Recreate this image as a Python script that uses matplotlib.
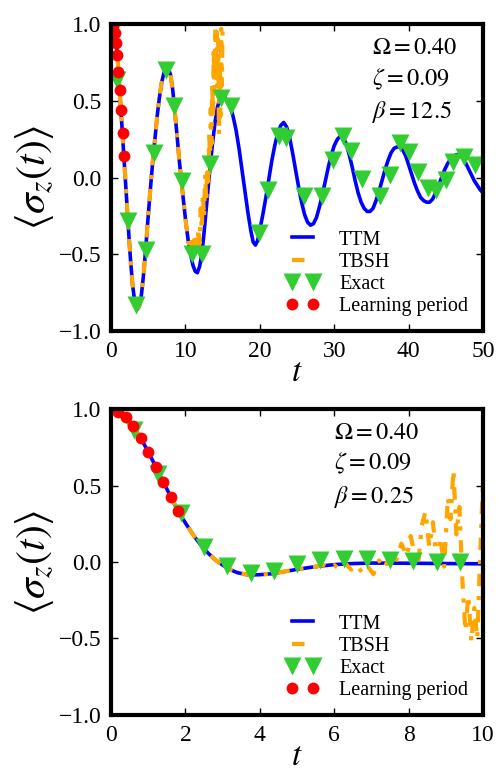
import numpy as np
import matplotlib
matplotlib.use("Agg")
import matplotlib.pyplot as plt

plt.rcParams["font.family"] = ["Liberation Serif", "DejaVu Serif"]
plt.rcParams["mathtext.fontset"] = "stix"
plt.rcParams["lines.scale_dashes"] = False

# ---- top panel (beta = 12.5) ----
ttm_top_t = [0, 0.3, 0.5, 0.7, 0.9, 1.1, 1.3, 1.5, 1.7, 1.9, 2.1, 2.3, 2.6, 2.9, 3.2, 3.5,
             3.8, 4.1, 4.4, 4.7, 5.0, 5.3, 5.6, 5.9, 6.2, 6.5, 6.8, 7.1, 7.4, 7.7, 8.0, 8.3,
             8.6, 8.9, 9.2, 9.5, 9.8, 10.1, 10.4, 10.7, 11.0, 11.3, 11.6, 11.9, 12.2, 12.5,
             12.8, 13.1, 13.4, 13.7, 14.0, 14.3, 14.6, 14.9, 15.2, 15.5, 15.8, 16.1, 16.4,
             16.8, 17.2, 17.6, 18.0, 18.4, 18.8, 19.1, 19.4, 19.7, 20.0, 20.4, 20.8, 21.2,
             21.6, 22.0, 22.4, 22.8, 23.2, 23.6, 24.0, 24.4, 24.8, 25.2, 25.6, 26.0, 26.4,
             26.8, 27.2, 27.6, 28.0, 28.4, 28.8, 29.2, 29.6, 30.0, 30.4, 30.8, 31.2, 31.6,
             32.0, 32.4, 32.8, 33.2, 33.6, 34.0, 34.4, 34.8, 35.2, 35.6, 36.0, 36.4, 36.8,
             37.2, 37.6, 38.0, 38.4, 38.8, 39.2, 39.6, 40.0, 40.4, 40.8, 41.2, 41.6, 42.0,
             42.4, 42.8, 43.2, 43.6, 44.0, 44.4, 44.8, 45.2, 45.6, 46.0, 46.4, 46.8, 47.2,
             47.6, 48.0, 48.4, 48.8, 49.2, 49.6, 50.0]
ttm_top_v = [1.0, 0.99, 0.96, 0.89, 0.77, 0.62, 0.48, 0.33, 0.17, 0.02, -0.14, -0.30, -0.52,
             -0.70, -0.81, -0.86, -0.84, -0.76, -0.62, -0.44, -0.25, -0.07, 0.10, 0.25, 0.40,
             0.52, 0.62, 0.68, 0.715, 0.715, 0.67, 0.57, 0.42, 0.26, 0.10, -0.04, -0.18,
             -0.31, -0.42, -0.50, -0.57, -0.61, -0.62, -0.58, -0.50, -0.36, -0.20, -0.04,
             0.11, 0.25, 0.37, 0.46, 0.51, 0.53, 0.53, 0.51, 0.49, 0.45, 0.40, 0.31, 0.19,
             0.05, -0.09, -0.23, -0.35, -0.42, -0.44, -0.41, -0.34, -0.24, -0.13, -0.01,
             0.11, 0.21, 0.29, 0.34, 0.36, 0.33, 0.26, 0.16, 0.05, -0.06, -0.16, -0.24,
             -0.29, -0.31, -0.30, -0.26, -0.19, -0.11, -0.02, 0.07, 0.15, 0.21, 0.25, 0.27,
             0.26, 0.22, 0.15, 0.07, -0.02, -0.10, -0.16, -0.20, -0.22, -0.22, -0.20, -0.15,
             -0.09, -0.02, 0.05, 0.11, 0.16, 0.19, 0.20, 0.20, 0.18, 0.14, 0.08, 0.02, -0.04,
             -0.09, -0.13, -0.15, -0.16, -0.16, -0.14, -0.10, -0.05, 0.0, 0.05, 0.09, 0.12,
             0.14, 0.15, 0.15, 0.13, 0.10, 0.06, 0.02, -0.02, -0.05, -0.08, -0.10]
# TBSH follows TTM until ~t=10, then becomes unstable
tbsh_top_tail_t = [10.4, 10.6, 10.8, 11.0, 11.15, 11.3, 11.45, 11.6, 11.75, 11.9, 12.05, 12.2,
                   12.35, 12.5, 12.65, 12.8, 12.95, 13.1, 13.2, 13.3, 13.4, 13.5, 13.6, 13.7,
                   13.8, 13.9, 14.0, 14.1, 14.2, 14.3, 14.4, 14.5, 14.6, 14.7, 14.8, 14.9,
                   15.0, 15.2, 15.5]
tbsh_top_tail_v = [-0.41, -0.47, -0.42, -0.50, -0.38, -0.48, -0.36, -0.46, -0.33, -0.43, -0.20,
                   -0.34, -0.10, -0.26, 0.02, -0.16, 0.12, -0.04, 0.30, 0.10, 0.45, 0.22, 0.62,
                   0.38, 0.85, 0.55, 0.98, 0.70, 0.95, 0.58, 0.90, 0.28, 0.75, 0.40, 0.97,
                   0.60, 1.05, 1.3, 2.0]
exact_top_t = [0.85, 2.3, 3.35, 4.65, 5.8, 7.35, 8.4, 9.6, 10.85, 12.2, 13.35, 14.75, 16.15,
               19.9, 21.1, 22.55, 23.55, 25.95, 28.4, 29.85, 31.1, 32.2, 33.65, 36.1, 37.45,
               38.8, 40.05, 41.25, 42.6, 43.6, 45.05, 46.0, 47.35, 48.9]
exact_top_v = [0.64, -0.28, -0.83, -0.47, 0.16, 0.70, 0.47, -0.02, -0.50, -0.50, 0.09, 0.52,
               0.47, -0.36, -0.08, 0.27, 0.26, -0.12, -0.12, 0.115, 0.27, 0.175, -0.01,
               -0.12, 0.02, 0.225, 0.165, 0.035, -0.07, -0.08, -0.015, 0.105, 0.137, 0.08]
learn_top_t = [0.3, 0.55, 0.72, 0.86, 1.0, 1.17, 1.35, 1.55, 1.74]
learn_top_v = [0.99, 0.945, 0.88, 0.80, 0.69, 0.57, 0.44, 0.29, 0.14]

# ---- bottom panel (beta = 0.25) ----
ttm_bot_t = [0, 0.2, 0.4, 0.6, 0.8, 1.0, 1.2, 1.4, 1.6, 1.8, 2.0, 2.2, 2.4, 2.6, 2.8, 3.0,
             3.2, 3.4, 3.7, 4.0, 4.3, 4.6, 5.0, 5.5, 6.0, 6.5, 7.0, 8.0, 9.0, 10.0]
ttm_bot_v = [1.0, 0.985, 0.95, 0.89, 0.81, 0.72, 0.625, 0.525, 0.43, 0.335, 0.255, 0.18,
             0.115, 0.06, 0.015, -0.02, -0.05, -0.07, -0.085, -0.083, -0.077, -0.065,
             -0.048, -0.03, -0.017, -0.01, -0.007, -0.008, -0.01, -0.012]
tbsh_bot_tail_t = [5.7, 5.85, 6.0, 6.15, 6.3, 6.45, 6.6, 6.75, 6.9, 7.05, 7.2, 7.35, 7.5,
                   7.65, 7.8, 7.95, 8.05, 8.15, 8.25, 8.35, 8.45, 8.55, 8.65, 8.75, 8.85,
                   8.95, 9.05, 9.12, 9.2, 9.28, 9.36, 9.44, 9.52, 9.6, 9.68, 9.76, 9.84,
                   9.92, 10.0]
tbsh_bot_tail_v = [-0.02, -0.04, -0.02, -0.05, -0.01, -0.05, -0.02, -0.07, -0.03, -0.08,
                   0.01, -0.04, 0.05, 0.0, 0.12, 0.04, 0.17, 0.06, -0.02, 0.24, 0.33, 0.10,
                   0.26, 0.0, 0.16, -0.03, 0.42, 0.28, 0.60, 0.18, 0.36, -0.12, -0.45,
                   -0.22, -0.52, -0.30, -0.50, 0.05, 0.58]
exact_bot_t = [0.625, 1.25, 1.875, 2.5, 3.125, 3.75, 4.375, 5.0, 5.625, 6.25, 6.875, 7.5,
               8.125, 8.75, 9.375]
exact_bot_v = [0.86, 0.575, 0.32, 0.1, -0.025, -0.07, -0.06, -0.01, 0.01, 0.018, 0.022,
               0.013, 0.008, 0.0, 0.0]
learn_bot_t = [0.2, 0.4, 0.6, 0.8, 1.0, 1.2, 1.4, 1.6, 1.8]
learn_bot_v = [0.982, 0.95, 0.889, 0.812, 0.721, 0.623, 0.525, 0.427, 0.333]

params_top = "$\\Omega=0.40$\n$\\zeta=0.09$\n$\\beta=12.5$"
params_bot = "$\\Omega=0.40$\n$\\zeta=0.09$\n$\\beta=0.25$"


def join_tbsh(ttm_t, ttm_v, tail_t, tail_v):
    ttm_t = np.asarray(ttm_t)
    ttm_v = np.asarray(ttm_v)
    keep = ttm_t < tail_t[0]
    return (np.concatenate([ttm_t[keep], tail_t]),
            np.concatenate([ttm_v[keep], tail_v]))


def draw_panel(ax, ttm_t, ttm_v, tbsh_t, tbsh_v, ex_t, ex_v, lp_t, lp_v,
               xmax, xticks, text, text_x):
    ax.plot(ttm_t, ttm_v, color="blue", lw=2.6, label="TTM")
    ax.plot(tbsh_t, tbsh_v, color="orange", lw=3.0, dashes=[9, 7, 3, 7], label="TBSH")
    ax.plot(ex_t, ex_v, "v", color="limegreen", ms=12.5, mec="none", label="Exact")
    ax.plot(lp_t, lp_v, "o", color="red", ms=8.5, mec="none", label="Learning period")

    ax.set_xlim(0, xmax)
    ax.set_ylim(-1, 1)
    ax.set_xticks(xticks)
    ax.set_yticks([-1.0, -0.5, 0.0, 0.5, 1.0])
    ax.set_yticklabels(["\u22121.0", "\u22120.5", "0.0", "0.5", "1.0"])
    ax.tick_params(direction="in", top=True, right=True, length=5, width=1,
                   labelsize=17, pad=7)
    for sp in ax.spines.values():
        sp.set_linewidth(3)

    ax.set_xlabel("$t$", fontsize=24, labelpad=-3)
    ax.set_ylabel(r"$\langle\sigma_z(t)\rangle$", fontsize=30, labelpad=2)
    ax.text(text_x, 0.955, text, transform=ax.transAxes, ha="left", va="top",
            fontsize=17.5, linespacing=1.4)
    ax.legend(loc="lower right", frameon=False, numpoints=2, fontsize=14.5,
              handlelength=1.65, handletextpad=1.0, labelspacing=0.15,
              borderaxespad=0.35)


fig = plt.figure(figsize=(4.99, 7.77), dpi=100)
ax1 = fig.add_axes([0.2224, 0.574, 0.746, 0.3947])
ax2 = fig.add_axes([0.2224, 0.0798, 0.746, 0.3938])

t_top, v_top = join_tbsh(ttm_top_t, ttm_top_v, tbsh_top_tail_t, tbsh_top_tail_v)
draw_panel(ax1, ttm_top_t, ttm_top_v, t_top, v_top, exact_top_t, exact_top_v,
           learn_top_t, learn_top_v, 50, [0, 10, 20, 30, 40, 50], params_top, 0.70)

t_bot, v_bot = join_tbsh(ttm_bot_t, ttm_bot_v, tbsh_bot_tail_t, tbsh_bot_tail_v)
draw_panel(ax2, ttm_bot_t, ttm_bot_v, t_bot, v_bot, exact_bot_t, exact_bot_v,
           learn_bot_t, learn_bot_v, 10, [0, 2, 4, 6, 8, 10], params_bot, 0.60)

fig.savefig("out.png", dpi=100)
